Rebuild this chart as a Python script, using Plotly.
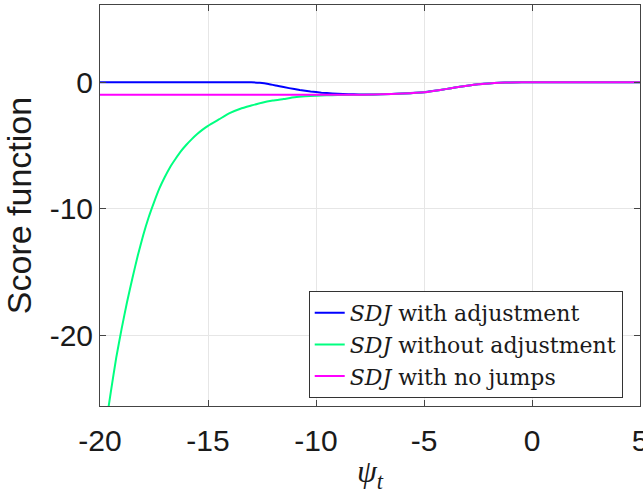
import plotly.graph_objects as go

# ---- data ----
no_jumps_x = [-20.0, -8.0, -7.0, -6.0, -5.0, -4.5, -4.0, -3.5, -3.0, -2.5, -2.0, -1.5, -1.0, 0.0, 5.0]
no_jumps_y = [-1.0, -1.0, -0.96, -0.9, -0.8, -0.68, -0.55, -0.41, -0.28, -0.17, -0.1, -0.05, -0.02, 0.0, 0.0]

adj_x = [-20.0, -16.0, -14.0, -13.4, -13.0, -12.6, -12.2, -11.75, -11.25, -10.75, -10.25, -9.75, -9.25, -8.75, -8.25, -7.75]
adj_y = [0.0, 0.0, 0.0, 0.0, -0.01, -0.05, -0.14, -0.3, -0.47, -0.62, -0.74, -0.83, -0.89, -0.93, -0.96, -0.97]

noadj_x = [-19.65, -19.5, -19.25, -19.0, -18.75, -18.5, -18.25, -18.0, -17.75, -17.5, -17.25,
           -17.0, -16.75, -16.5, -16.25, -16.0, -15.75, -15.5, -15.25, -15.0, -14.5, -14.0,
           -13.5, -13.0, -12.5, -12.0, -11.5, -11.0, -10.5, -10.0, -9.5, -9.0, -8.5, -8.0, -7.5]
noadj_y = [-26.2, -24.5, -21.8, -19.5, -17.4, -15.5, -13.7, -12.1, -10.7, -9.5, -8.4,
           -7.5, -6.7, -6.05, -5.45, -4.95, -4.5, -4.1, -3.75, -3.45, -2.95, -2.45,
           -2.1, -1.85, -1.62, -1.45, -1.33, -1.2, -1.12, -1.07, -1.04, -1.02, -1.01, -1.0, -0.99]

x_ticks = [-20, -15, -10, -5, 0, 5]
y_ticks = [-20, -10, 0]

names = ["<i>SDJ</i> with adjustment", "<i>SDJ</i> without adjustment", "<i>SDJ</i> with no jumps"]
colors = ["#0000ff", "#00ff80", "#ff00ff"]

# tails coincide with the no-jump curve for psi > -7
tail_x = [x for x in no_jumps_x if x >= -7]
tail_y = [y for x, y in zip(no_jumps_x, no_jumps_y) if x >= -7]

fig = go.Figure()
fig.add_trace(go.Scatter(x=adj_x + tail_x, y=adj_y + tail_y, mode="lines", name=names[0],
                         line=dict(color=colors[0], width=2, shape="spline", smoothing=0.4)))
fig.add_trace(go.Scatter(x=noadj_x + tail_x, y=noadj_y + tail_y, mode="lines", name=names[1],
                         line=dict(color=colors[1], width=2, shape="spline", smoothing=0.5)))
fig.add_trace(go.Scatter(x=no_jumps_x, y=no_jumps_y, mode="lines", name=names[2],
                         line=dict(color=colors[2], width=2, shape="spline", smoothing=0.6)))

axis_common = dict(
    showline=True, linecolor="#444444", linewidth=1, mirror="allticks",
    ticks="inside", ticklen=6, tickcolor="#444444",
    showgrid=True, gridcolor="#e6e6e6", gridwidth=1,
    zeroline=False, automargin=False, ticklabeloverflow="allow",
    tickfont=dict(family="Liberation Sans, Arial", size=30, color="#1a1a1a"),
)

fig.update_layout(
    width=643, height=494,
    margin=dict(l=100, r=3, t=5, b=88),
    plot_bgcolor="white", paper_bgcolor="white",
    xaxis=dict(range=[-20, 5], tickvals=x_ticks, ticktext=[str(v) for v in x_ticks],
               title=dict(text="<i>ψ</i><sub><i>t</i></sub>",
                          font=dict(family="Liberation Serif, Times New Roman", size=32, color="#1a1a1a"),
                          standoff=4),
               ticklabelstandoff=8,
               **axis_common),
    yaxis=dict(range=[-25.6, 6.1], tickvals=y_ticks, ticktext=[str(v) for v in y_ticks],
               title=dict(text="Score function",
                          font=dict(family="Liberation Sans, Arial", size=34, color="#1a1a1a"),
                          standoff=8),
               **axis_common),
    legend=dict(x=0.968, y=0.02, xanchor="right", yanchor="bottom",
                bgcolor="white", bordercolor="#333333", borderwidth=1,
                font=dict(family="DejaVu Serif", size=22, color="#1a1a1a"),
                tracegroupgap=0, itemwidth=30),
    showlegend=True,
)

fig.write_html(
    "out.html",
    config={"displayModeBar": False},
    post_script="document.body.style.margin='0';document.body.style.overflow='hidden';",
)
